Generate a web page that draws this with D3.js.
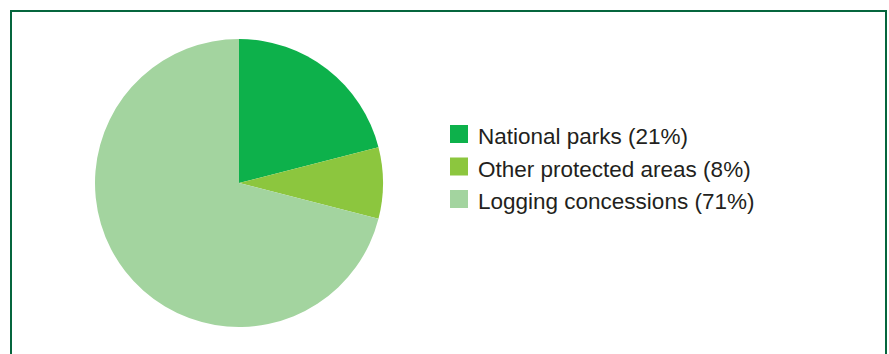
<!DOCTYPE html>
<html>
<head>
<meta charset="utf-8">
<script src="https://cdn.jsdelivr.net/npm/d3@7"></script>
<style>
  body { margin: 0; background: #fff; }
  svg { display: block; }
</style>
</head>
<body>
<div id="chart"></div>
<script>
// pie of land use shares
const width = 889, height = 354;

const categories = ["National parks", "Other protected areas", "Logging concessions"];
const shares = [21, 8, 71];
const colors = ["#0db14b", "#8cc63e", "#a3d49f"];

const svg = d3.select("#chart")
  .append("svg")
  .attr("width", width)
  .attr("height", height);

// frame, open at the bottom
svg.append("path")
  .attr("d", "M11,354 V11 H886 V354")
  .attr("fill", "none")
  .attr("stroke", "#05663d")
  .attr("stroke-width", 2);

const data = categories.map((c, i) => ({ name: c, value: shares[i], color: colors[i] }));

const pie = d3.pie().value(d => d.value).sort(null);
const arc = d3.arc().innerRadius(0).outerRadius(144);

const g = svg.append("g").attr("transform", "translate(239,183)");
g.selectAll("path")
  .data(pie(data))
  .join("path")
  .attr("d", arc)
  .attr("fill", d => d.data.color);

// legend
const legend = svg.append("g").attr("transform", "translate(450,125)");
const row = legend.selectAll("g")
  .data(data)
  .join("g")
  .attr("transform", (d, i) => `translate(0,${i * 32.5})`);

row.append("rect")
  .attr("width", 18)
  .attr("height", 18)
  .attr("fill", d => d.color);

row.append("text")
  .attr("x", 28)
  .attr("y", 19)
  .style("font", "22.5px 'Liberation Sans', Arial, sans-serif")
  .attr("fill", "#231f20")
  .text(d => `${d.name} (${d.value}%)`);
</script>
</body>
</html>
